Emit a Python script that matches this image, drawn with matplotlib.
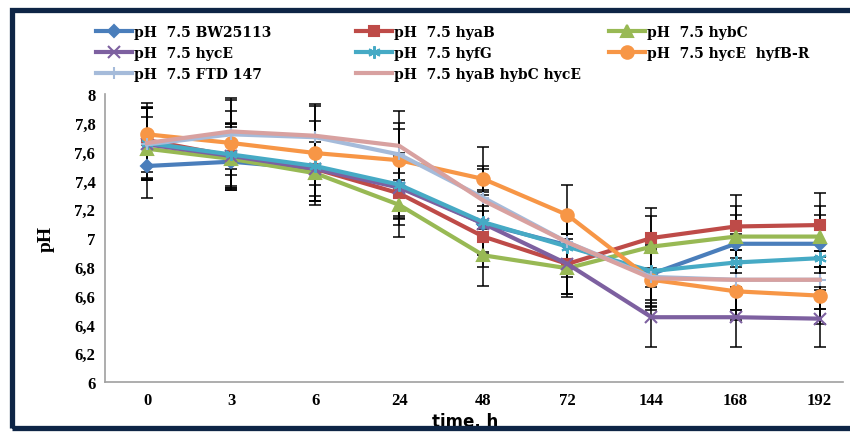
import matplotlib
matplotlib.use("Agg")
import matplotlib.pyplot as plt
from matplotlib.patches import Rectangle
from matplotlib.lines import Line2D

categories = ["0", "3", "6", "24", "48", "72", "144", "168", "192"]
series_names = ["pH  7.5 BW25113", "pH  7.5 hyaB", "pH  7.5 hybC",
                "pH  7.5 hycE", "pH  7.5 hyfG", "pH  7.5 hycE  hyfB-R",
                "pH  7.5 FTD 147", "pH  7.5 hyaB hybC hycE"]

bw25113 = [7.50, 7.53, 7.48, 7.36, 7.10, 6.95, 6.75, 6.96, 6.96]
hyaB    = [7.68, 7.57, 7.48, 7.31, 7.01, 6.82, 7.00, 7.08, 7.09]
hybC    = [7.62, 7.55, 7.45, 7.23, 6.88, 6.79, 6.94, 7.01, 7.01]
hycE    = [7.65, 7.57, 7.48, 7.35, 7.10, 6.82, 6.45, 6.45, 6.44]
hyfG    = [7.66, 7.58, 7.50, 7.37, 7.11, 6.94, 6.77, 6.83, 6.86]
hycE_hyfBR = [7.72, 7.66, 7.59, 7.54, 7.41, 7.16, 6.71, 6.63, 6.60]
ftd147  = [7.65, 7.72, 7.70, 7.58, 7.28, 6.97, 6.73, 6.71, 6.71]
triple  = [7.66, 7.74, 7.71, 7.64, 7.26, 6.97, 6.72, 6.71, 6.71]

err_bw25113 = [0.22, 0.20, 0.22, 0.22, 0.20, 0.20, 0.20, 0.20, 0.20]
err_hyaB    = [0.22, 0.22, 0.22, 0.22, 0.21, 0.21, 0.21, 0.22, 0.22]
err_hybC    = [0.22, 0.22, 0.22, 0.22, 0.21, 0.20, 0.21, 0.21, 0.21]
err_hycE    = [0.25, 0.22, 0.22, 0.22, 0.22, 0.21, 0.21, 0.21, 0.20]
err_hyfG    = [0.24, 0.22, 0.21, 0.22, 0.22, 0.21, 0.20, 0.20, 0.20]
err_hycE_hyfBR = [0.22, 0.22, 0.22, 0.22, 0.22, 0.21, 0.21, 0.20, 0.20]
err_ftd147  = [0.25, 0.24, 0.22, 0.22, 0.22, 0.21, 0.20, 0.21, 0.20]
err_triple  = [0.25, 0.23, 0.22, 0.24, 0.22, 0.21, 0.20, 0.21, 0.20]

yticks = [6, 6.2, 6.4, 6.6, 6.8, 7, 7.2, 7.4, 7.6, 7.8, 8]
ytick_labels = ["6", "6,2", "6,4", "6,6", "6,8", "7", "7,2", "7,4", "7,6", "7,8", "8"]

values = [bw25113, hyaB, hybC, hycE, hyfG, hycE_hyfBR, ftd147, triple]
errors = [err_bw25113, err_hyaB, err_hybC, err_hycE, err_hyfG, err_hycE_hyfBR, err_ftd147, err_triple]
colors = ["#4A7EBB", "#BE4B48", "#98B954", "#7D60A0", "#46AAC5", "#F79646", "#A5BBDA", "#D8A1A0"]
markers = ["D", "s", "^", "x", (6, 2, 0), "o", "+", None]
msizes = [6, 7.5, 8, 9, 9, 9, 9, 0]

fig = plt.figure(figsize=(8.5, 4.35), dpi=100)
ax = fig.add_axes([0.1235, 0.1195, 0.992 - 0.1235, 0.7816 - 0.1195])

x = list(range(len(categories)))
handles = []
for vals, errs in zip(values, errors):
    ax.errorbar(x, vals, yerr=errs, fmt="none", ecolor="black", elinewidth=1.1,
                capsize=4, capthick=1.1, zorder=2)
for vals, c, m, ms, name in zip(values, colors, markers, msizes, series_names):
    kw = dict(color=c, lw=3, zorder=3)
    if m is not None:
        kw.update(marker=m, markersize=ms, markerfacecolor=c, markeredgecolor=c, markeredgewidth=1.5)
    ax.plot(x, vals, **kw)
    h = Line2D([0], [0], color=c, lw=3, marker=m if m is not None else None,
               markersize=ms, markerfacecolor=c, markeredgecolor=c, markeredgewidth=1.5)
    handles.append(h)

ax.set_xlim(-0.5, 8.28)
ax.set_ylim(6, 8)
ax.set_xticks(x)
ax.set_xticklabels(categories)
ax.set_yticks(yticks)
ax.set_yticklabels(ytick_labels)
ax.tick_params(axis="both", length=0, pad=7)
for lab in ax.get_xticklabels() + ax.get_yticklabels():
    lab.set_fontfamily("Liberation Serif")
    lab.set_fontweight("bold")
    lab.set_fontsize(12)
for s in ["top", "right"]:
    ax.spines[s].set_visible(False)
for s in ["left", "bottom"]:
    ax.spines[s].set_color("#A0A0A0")
    ax.spines[s].set_linewidth(1.2)

ax.set_ylabel("pH", fontfamily="Liberation Serif", fontweight="bold", fontsize=14, labelpad=14)
fig.text(0.547, 0.030, "time, h", fontfamily="DejaVu Sans", fontweight="bold",
         fontsize=12, ha="center", va="center")

# legend: three columns placed at fixed positions (like Excel's uniform columns)
W, H = 850.0, 435.0
col_members = [[0, 3, 6], [1, 4, 7], [2, 5]]
col_x = [96, 356, 609]
for xs, members in zip(col_x, col_members):
    leg = fig.legend([handles[i] for i in members], [series_names[i] for i in members],
                     ncol=1, loc="upper left", bbox_to_anchor=(xs / W, 1 - 26 / H),
                     frameon=False, handlelength=2.6, handletextpad=0.15,
                     borderpad=0, borderaxespad=0, labelspacing=0.5,
                     prop={"family": "DejaVu Serif", "weight": "bold", "size": 10})

# dark border around figure
fig.patches.append(Rectangle((12 / W, 1 - 429 / H), 2.0, (429 - 10.5) / H,
                             transform=fig.transFigure, fill=False,
                             edgecolor="#0E2546", linewidth=3.8, zorder=10))

fig.savefig("out.png", dpi=100)
